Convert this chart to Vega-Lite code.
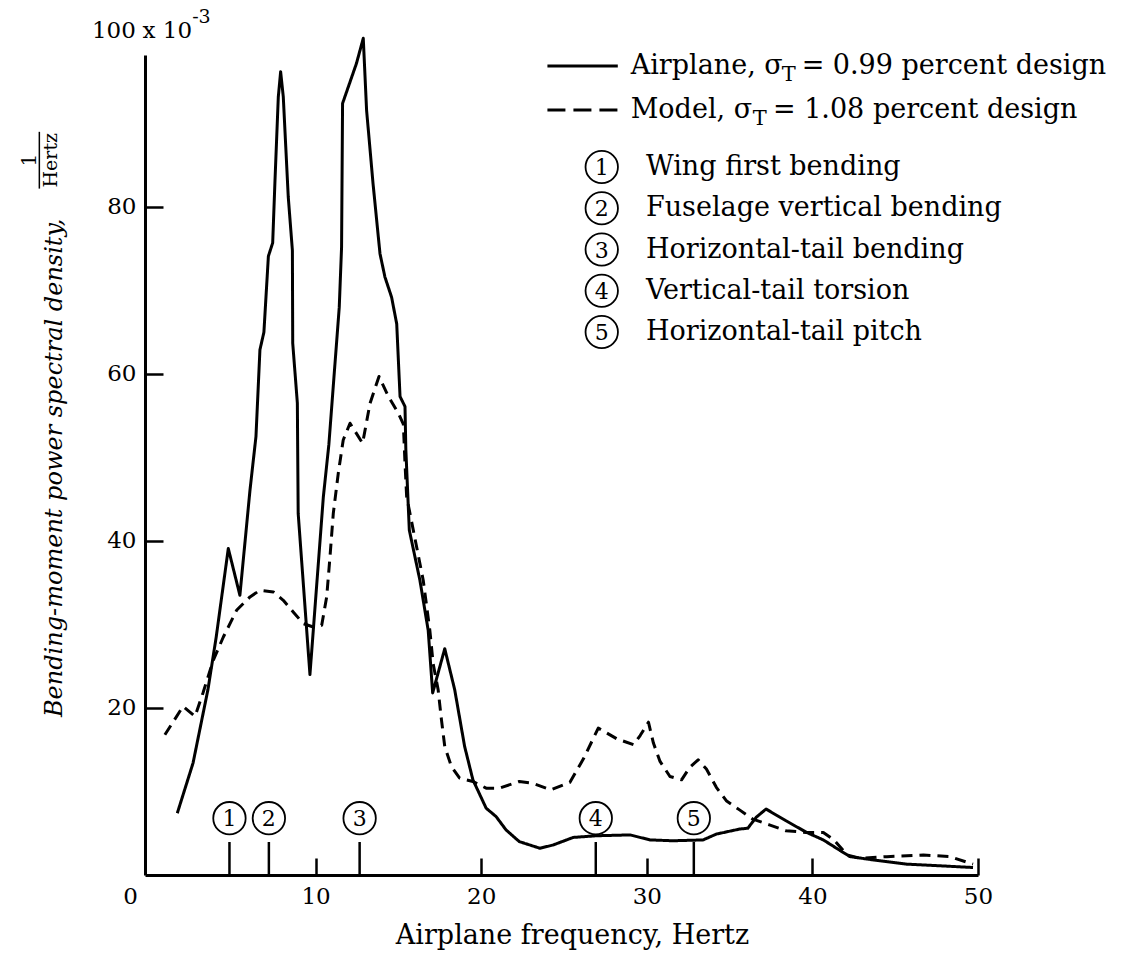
{
  "$schema": "https://vega.github.io/schema/vega-lite/v6.json",
  "width": 833,
  "height": 820,
  "autosize": "none",
  "padding": {"left": 145, "top": 55, "right": 164, "bottom": 79},
  "background": "white",
  "config": {
    "view": {"stroke": null},
    "font": "DejaVu Serif",
    "text": {"color": "black", "font": "DejaVu Serif"},
    "axis": {
      "labelFont": "DejaVu Serif",
      "titleFont": "DejaVu Serif",
      "labelColor": "black",
      "titleColor": "black",
      "domainColor": "black",
      "tickColor": "black",
      "grid": false,
      "titleFontWeight": "normal"
    }
  },
  "datasets": {
    "psd": [
      {"series": "Airplane", "freq": 1.65, "psd": 7.4},
      {"series": "Airplane", "freq": 2.6, "psd": 13.4},
      {"series": "Airplane", "freq": 3.5, "psd": 22.2},
      {"series": "Airplane", "freq": 4.0, "psd": 28.5},
      {"series": "Airplane", "freq": 4.73, "psd": 39.1},
      {"series": "Airplane", "freq": 5.43, "psd": 33.5},
      {"series": "Airplane", "freq": 6.04, "psd": 46.1},
      {"series": "Airplane", "freq": 6.4, "psd": 52.5},
      {"series": "Airplane", "freq": 6.64, "psd": 62.9},
      {"series": "Airplane", "freq": 6.88, "psd": 65.0},
      {"series": "Airplane", "freq": 7.15, "psd": 74.1},
      {"series": "Airplane", "freq": 7.41, "psd": 75.7},
      {"series": "Airplane", "freq": 7.55, "psd": 83.2},
      {"series": "Airplane", "freq": 7.75, "psd": 93.2},
      {"series": "Airplane", "freq": 7.89, "psd": 96.2},
      {"series": "Airplane", "freq": 8.05, "psd": 93.2},
      {"series": "Airplane", "freq": 8.35, "psd": 81.2},
      {"series": "Airplane", "freq": 8.6, "psd": 74.8},
      {"series": "Airplane", "freq": 8.62, "psd": 63.7},
      {"series": "Airplane", "freq": 8.9, "psd": 56.5},
      {"series": "Airplane", "freq": 8.92, "psd": 51.0},
      {"series": "Airplane", "freq": 8.95, "psd": 43.3},
      {"series": "Airplane", "freq": 9.66, "psd": 24.0},
      {"series": "Airplane", "freq": 10.47, "psd": 45.3},
      {"series": "Airplane", "freq": 10.8, "psd": 51.5},
      {"series": "Airplane", "freq": 11.43, "psd": 68.0},
      {"series": "Airplane", "freq": 11.57, "psd": 75.2},
      {"series": "Airplane", "freq": 11.63, "psd": 92.4},
      {"series": "Airplane", "freq": 12.47, "psd": 97.2},
      {"series": "Airplane", "freq": 12.88, "psd": 100.2},
      {"series": "Airplane", "freq": 13.08, "psd": 91.6},
      {"series": "Airplane", "freq": 13.47, "psd": 82.8},
      {"series": "Airplane", "freq": 13.89, "psd": 74.4},
      {"series": "Airplane", "freq": 14.19, "psd": 71.6},
      {"series": "Airplane", "freq": 14.59, "psd": 69.2},
      {"series": "Airplane", "freq": 14.9, "psd": 66.0},
      {"series": "Airplane", "freq": 15.1, "psd": 57.3},
      {"series": "Airplane", "freq": 15.4, "psd": 56.1},
      {"series": "Airplane", "freq": 15.45, "psd": 51.0},
      {"series": "Airplane", "freq": 15.66, "psd": 41.3},
      {"series": "Airplane", "freq": 16.3, "psd": 35.3},
      {"series": "Airplane", "freq": 16.8, "psd": 29.3},
      {"series": "Airplane", "freq": 17.07, "psd": 21.8},
      {"series": "Airplane", "freq": 17.8, "psd": 27.1},
      {"series": "Airplane", "freq": 18.4, "psd": 22.2},
      {"series": "Airplane", "freq": 19.0, "psd": 15.4},
      {"series": "Airplane", "freq": 19.5, "psd": 11.4},
      {"series": "Airplane", "freq": 20.3, "psd": 8.0},
      {"series": "Airplane", "freq": 20.9, "psd": 7.0},
      {"series": "Airplane", "freq": 21.5, "psd": 5.4},
      {"series": "Airplane", "freq": 22.3, "psd": 4.0},
      {"series": "Airplane", "freq": 23.55, "psd": 3.2},
      {"series": "Airplane", "freq": 24.35, "psd": 3.6},
      {"series": "Airplane", "freq": 25.56, "psd": 4.5},
      {"series": "Airplane", "freq": 26.97, "psd": 4.7},
      {"series": "Airplane", "freq": 28.99, "psd": 4.8},
      {"series": "Airplane", "freq": 30.2, "psd": 4.2},
      {"series": "Airplane", "freq": 31.6, "psd": 4.1},
      {"series": "Airplane", "freq": 33.4, "psd": 4.2},
      {"series": "Airplane", "freq": 34.2, "psd": 4.9},
      {"series": "Airplane", "freq": 35.6, "psd": 5.5},
      {"series": "Airplane", "freq": 36.1, "psd": 5.6},
      {"series": "Airplane", "freq": 36.6, "psd": 6.9},
      {"series": "Airplane", "freq": 37.2, "psd": 7.9},
      {"series": "Airplane", "freq": 38.4, "psd": 6.5},
      {"series": "Airplane", "freq": 39.65, "psd": 5.1},
      {"series": "Airplane", "freq": 40.66, "psd": 4.2},
      {"series": "Airplane", "freq": 41.7, "psd": 2.9},
      {"series": "Airplane", "freq": 42.27, "psd": 2.2},
      {"series": "Airplane", "freq": 43.7, "psd": 1.8},
      {"series": "Airplane", "freq": 45.7, "psd": 1.3},
      {"series": "Airplane", "freq": 47.7, "psd": 1.1},
      {"series": "Airplane", "freq": 49.7, "psd": 0.9},
      {"series": "Model", "freq": 0.9, "psd": 16.8},
      {"series": "Model", "freq": 2.0, "psd": 20.2},
      {"series": "Model", "freq": 2.72, "psd": 19.0},
      {"series": "Model", "freq": 3.2, "psd": 21.8},
      {"series": "Model", "freq": 3.82, "psd": 25.7},
      {"series": "Model", "freq": 4.43, "psd": 28.5},
      {"series": "Model", "freq": 5.23, "psd": 31.7},
      {"series": "Model", "freq": 6.04, "psd": 33.3},
      {"series": "Model", "freq": 6.64, "psd": 34.1},
      {"series": "Model", "freq": 7.45, "psd": 33.9},
      {"series": "Model", "freq": 8.05, "psd": 32.9},
      {"series": "Model", "freq": 8.65, "psd": 31.5},
      {"series": "Model", "freq": 9.26, "psd": 30.1},
      {"series": "Model", "freq": 9.86, "psd": 29.7},
      {"series": "Model", "freq": 10.37, "psd": 29.9},
      {"series": "Model", "freq": 10.67, "psd": 33.3},
      {"series": "Model", "freq": 10.87, "psd": 38.1},
      {"series": "Model", "freq": 11.07, "psd": 43.3},
      {"series": "Model", "freq": 11.37, "psd": 48.1},
      {"series": "Model", "freq": 11.67, "psd": 52.1},
      {"series": "Model", "freq": 12.08, "psd": 54.1},
      {"series": "Model", "freq": 12.84, "psd": 51.7},
      {"series": "Model", "freq": 13.29, "psd": 56.5},
      {"series": "Model", "freq": 13.83, "psd": 59.7},
      {"series": "Model", "freq": 14.4, "psd": 57.3},
      {"series": "Model", "freq": 15.0, "psd": 55.3},
      {"series": "Model", "freq": 15.3, "psd": 54.0},
      {"series": "Model", "freq": 15.4, "psd": 49.3},
      {"series": "Model", "freq": 15.5, "psd": 45.3},
      {"series": "Model", "freq": 15.9, "psd": 41.3},
      {"series": "Model", "freq": 16.5, "psd": 35.3},
      {"series": "Model", "freq": 16.9, "psd": 29.3},
      {"series": "Model", "freq": 17.1, "psd": 25.3},
      {"series": "Model", "freq": 17.4, "psd": 22.2},
      {"series": "Model", "freq": 17.6, "psd": 18.6},
      {"series": "Model", "freq": 17.8, "psd": 15.4},
      {"series": "Model", "freq": 18.2, "psd": 13.0},
      {"series": "Model", "freq": 18.7, "psd": 11.6},
      {"series": "Model", "freq": 19.5, "psd": 11.2},
      {"series": "Model", "freq": 20.3, "psd": 10.4},
      {"series": "Model", "freq": 21.1, "psd": 10.4},
      {"series": "Model", "freq": 22.3, "psd": 11.2},
      {"series": "Model", "freq": 23.1, "psd": 11.0},
      {"series": "Model", "freq": 24.2, "psd": 10.2},
      {"series": "Model", "freq": 25.36, "psd": 11.1},
      {"series": "Model", "freq": 26.2, "psd": 14.0},
      {"series": "Model", "freq": 27.07, "psd": 17.6},
      {"series": "Model", "freq": 28.2, "psd": 16.3},
      {"series": "Model", "freq": 29.2, "psd": 15.6},
      {"series": "Model", "freq": 29.6, "psd": 16.7},
      {"series": "Model", "freq": 30.1, "psd": 18.3},
      {"series": "Model", "freq": 30.4, "psd": 15.8},
      {"series": "Model", "freq": 30.8, "psd": 13.6},
      {"series": "Model", "freq": 31.4, "psd": 11.8},
      {"series": "Model", "freq": 32.1, "psd": 11.4},
      {"series": "Model", "freq": 32.6, "psd": 12.9},
      {"series": "Model", "freq": 33.1, "psd": 13.8},
      {"series": "Model", "freq": 33.6, "psd": 12.7},
      {"series": "Model", "freq": 34.2, "psd": 10.5},
      {"series": "Model", "freq": 34.8, "psd": 8.9},
      {"series": "Model", "freq": 35.6, "psd": 7.8},
      {"series": "Model", "freq": 36.4, "psd": 6.7},
      {"series": "Model", "freq": 37.4, "psd": 6.0},
      {"series": "Model", "freq": 38.4, "psd": 5.3},
      {"series": "Model", "freq": 39.65, "psd": 5.1},
      {"series": "Model", "freq": 40.66, "psd": 5.1},
      {"series": "Model", "freq": 41.3, "psd": 4.2},
      {"series": "Model", "freq": 42.1, "psd": 2.4},
      {"series": "Model", "freq": 42.9, "psd": 2.0},
      {"series": "Model", "freq": 44.5, "psd": 2.2},
      {"series": "Model", "freq": 46.7, "psd": 2.4},
      {"series": "Model", "freq": 48.3, "psd": 2.2},
      {"series": "Model", "freq": 49.7, "psd": 1.3}
    ],
    "modes": [
      {"mode": 1, "freq": 4.8, "name": "Wing first bending"},
      {"mode": 2, "freq": 7.18, "name": "Fuselage vertical bending"},
      {"mode": 3, "freq": 12.66, "name": "Horizontal-tail bending"},
      {"mode": 4, "freq": 26.92, "name": "Vertical-tail torsion"},
      {"mode": 5, "freq": 32.84, "name": "Horizontal-tail pitch"}
    ],
    "cases": [
      {"series": "Airplane", "head": "Airplane, σ", "sub": "T", "tail": "= 0.99 percent design"},
      {"series": "Model", "head": "Model, σ", "sub": "T", "tail": "= 1.08 percent design"}
    ],
    "blank": [{}]
  },
  "layer": [
    {
      "layer": [
        {
          "data": {"name": "psd"},
          "mark": {"type": "line", "color": "black", "strokeWidth": 3, "strokeJoin": "round", "strokeCap": "butt"},
          "encoding": {
            "x": {
              "field": "freq",
              "type": "quantitative",
              "scale": {"domain": [-0.3, 50], "nice": false, "zero": false},
              "axis": {
                "values": [0, 10, 20, 30, 40, 50],
                "title": "Airplane frequency, Hertz",
                "titleFontSize": 27,
                "titleX": 427,
                "titleY": 60,
                "titleBaseline": "middle",
                "labelFontSize": 23,
                "labelFlush": false,
                "labelBaseline": "middle",
                "labelPadding": 38,
                "labelOffset": {"condition": {"test": "datum.value == 0", "value": -20}, "value": 0},
                "tickSize": -17,
                "tickWidth": 2.5,
                "tickOpacity": {"condition": {"test": "datum.value == 0", "value": 0}, "value": 1},
                "domainWidth": 3
              }
            },
            "y": {
              "field": "psd",
              "type": "quantitative",
              "scale": {"domain": [0, 98.2], "nice": false, "zero": false},
              "axis": {
                "values": [20, 40, 60, 80],
                "title": "Bending-moment power spectral density,",
                "titleFontStyle": "italic",
                "titleFontSize": 24,
                "titleAngle": 270,
                "titleAlign": "right",
                "titleBaseline": "middle",
                "titleX": -91,
                "titleY": 163,
                "labelFontSize": 23,
                "labelPadding": 27,
                "tickSize": -18,
                "tickWidth": 2.5,
                "domainWidth": 3
              }
            },
            "strokeDash": {
              "field": "series",
              "type": "nominal",
              "scale": {"domain": ["Airplane", "Model"], "range": [[1, 0], [11, 7]]},
              "legend": null
            }
          }
        },
        {
          "data": {"name": "modes"},
          "mark": {"type": "rule", "color": "black", "strokeWidth": 2.5},
          "encoding": {
            "x": {"field": "freq", "type": "quantitative"},
            "y": {"datum": 0, "type": "quantitative"},
            "y2": {"datum": 3.95}
          }
        },
        {
          "data": {"name": "modes"},
          "mark": {"type": "point", "shape": "circle", "filled": false, "size": 1050, "stroke": "black", "strokeWidth": 1.8, "opacity": 1},
          "encoding": {
            "x": {"field": "freq", "type": "quantitative"},
            "y": {"datum": 6.8, "type": "quantitative"}
          }
        },
        {
          "data": {"name": "modes"},
          "mark": {"type": "text", "fontSize": 22, "align": "center", "baseline": "middle", "dy": 1},
          "encoding": {
            "x": {"field": "freq", "type": "quantitative"},
            "y": {"datum": 6.8, "type": "quantitative"},
            "text": {"field": "mode"}
          }
        },
        {
          "data": {"name": "blank"},
          "mark": {"type": "text", "text": "100", "fontSize": 23, "align": "right", "baseline": "middle"},
          "encoding": {
            "x": {"datum": -0.85, "type": "quantitative"},
            "y": {"datum": 101.1, "type": "quantitative"}
          }
        },
        {
          "data": {"name": "blank"},
          "mark": {"type": "text", "text": "x 10", "fontSize": 23, "align": "left", "baseline": "middle"},
          "encoding": {
            "x": {"datum": -0.45, "type": "quantitative"},
            "y": {"datum": 101.1, "type": "quantitative"}
          }
        },
        {
          "data": {"name": "blank"},
          "mark": {"type": "text", "text": "-3", "fontSize": 19, "align": "left", "baseline": "middle"},
          "encoding": {
            "x": {"datum": 2.55, "type": "quantitative"},
            "y": {"datum": 102.8, "type": "quantitative"}
          }
        },
        {
          "data": {"name": "blank"},
          "mark": {"type": "text", "text": "1", "fontSize": 20, "angle": 270, "align": "center", "baseline": "middle"},
          "encoding": {
            "x": {"datum": -7.25, "type": "quantitative"},
            "y": {"datum": 85.6, "type": "quantitative"}
          }
        },
        {
          "data": {"name": "blank"},
          "mark": {"type": "rule", "color": "black", "strokeWidth": 1.5},
          "encoding": {
            "x": {"datum": -6.68, "type": "quantitative"},
            "y": {"datum": 82.2, "type": "quantitative"},
            "y2": {"datum": 89.0}
          }
        },
        {
          "data": {"name": "blank"},
          "mark": {"type": "text", "text": "Hertz", "fontSize": 19, "angle": 270, "align": "center", "baseline": "middle"},
          "encoding": {
            "x": {"datum": -6.0, "type": "quantitative"},
            "y": {"datum": 85.6, "type": "quantitative"}
          }
        }
      ]
    },
    {
      "data": {"name": "cases"},
      "encoding": {
        "y": {
          "field": "series",
          "type": "nominal",
          "scale": {"type": "point", "domain": ["Airplane", "Model"], "range": [11, 55], "padding": 0},
          "axis": null
        }
      },
      "layer": [
        {
          "mark": {"type": "rule", "color": "black", "strokeWidth": 3},
          "encoding": {
            "x": {"datum": 24.0, "type": "quantitative"},
            "x2": {"datum": 28.25},
            "strokeDash": {
              "field": "series",
              "type": "nominal",
              "scale": {"domain": ["Airplane", "Model"], "range": [[1, 0], [18, 8]]},
              "legend": null
            }
          }
        },
        {
          "mark": {"type": "text", "fontSize": 27, "align": "left", "baseline": "middle"},
          "encoding": {
            "x": {"datum": 29.03, "type": "quantitative"},
            "text": {"field": "head"}
          }
        },
        {
          "transform": [{"filter": "datum.series == 'Airplane'"}],
          "layer": [
            {
              "mark": {"type": "text", "fontSize": 21, "align": "left", "baseline": "middle", "dy": 9},
              "encoding": {
                "x": {"datum": 38.15, "type": "quantitative"},
                "text": {"field": "sub"}
              }
            },
            {
              "mark": {"type": "text", "fontSize": 27, "align": "left", "baseline": "middle"},
              "encoding": {
                "x": {"datum": 39.35, "type": "quantitative"},
                "text": {"field": "tail"}
              }
            }
          ]
        },
        {
          "transform": [{"filter": "datum.series == 'Model'"}],
          "layer": [
            {
              "mark": {"type": "text", "fontSize": 21, "align": "left", "baseline": "middle", "dy": 9},
              "encoding": {
                "x": {"datum": 36.4, "type": "quantitative"},
                "text": {"field": "sub"}
              }
            },
            {
              "mark": {"type": "text", "fontSize": 27, "align": "left", "baseline": "middle"},
              "encoding": {
                "x": {"datum": 37.62, "type": "quantitative"},
                "text": {"field": "tail"}
              }
            }
          ]
        }
      ]
    },
    {
      "data": {"name": "modes"},
      "encoding": {
        "y": {
          "field": "mode",
          "type": "quantitative",
          "scale": {"domain": [1, 5], "range": [112, 277], "zero": false, "nice": false},
          "axis": null
        }
      },
      "layer": [
        {
          "mark": {"type": "point", "shape": "circle", "filled": false, "size": 1050, "stroke": "black", "strokeWidth": 1.8, "opacity": 1},
          "encoding": {"x": {"datum": 27.28, "type": "quantitative"}}
        },
        {
          "mark": {"type": "text", "fontSize": 22, "align": "center", "baseline": "middle", "dy": 1},
          "encoding": {
            "x": {"datum": 27.28, "type": "quantitative"},
            "text": {"field": "mode"}
          }
        },
        {
          "mark": {"type": "text", "fontSize": 27, "align": "left", "baseline": "middle"},
          "encoding": {
            "x": {"datum": 29.95, "type": "quantitative"},
            "text": {"field": "name"}
          }
        }
      ]
    }
  ],
  "resolve": {"scale": {"y": "independent", "strokeDash": "independent"}}
}
